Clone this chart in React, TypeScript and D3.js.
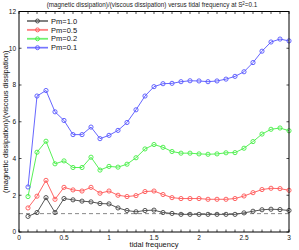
import React from "react";
import * as d3 from "d3";

const freqs = [
  0.1, 0.2, 0.3, 0.4, 0.5, 0.6, 0.7, 0.8, 0.9, 1.0,
  1.1, 1.2, 1.3, 1.4, 1.5, 1.6, 1.7, 1.8, 1.9, 2.0,
  2.1, 2.2, 2.3, 2.4, 2.5, 2.6, 2.7, 2.8, 2.9, 3.0,
];

const pm10 = [
  0.85, 1.06, 1.87, 1.06, 1.82, 1.75, 1.68, 1.64, 1.55, 1.53,
  1.31, 1.17, 1.1, 1.17, 1.19, 1.06, 1.01, 0.96, 0.96, 0.96,
  0.96, 0.96, 0.96, 0.96, 1.04, 1.13, 1.21, 1.24, 1.22, 1.17,
];
const pm05 = [
  1.31, 1.95, 2.81, 1.78, 2.43, 2.29, 2.23, 2.43, 2.11, 2.23,
  2.0, 1.93, 1.98, 2.2, 2.23, 2.04, 1.87, 1.82, 1.82, 1.82,
  1.78, 1.78, 1.78, 1.82, 1.96, 2.14, 2.31, 2.38, 2.36, 2.27,
];
const pm02 = [
  1.93, 4.34, 4.94, 3.71, 3.87, 3.51, 3.51, 4.07, 3.37, 3.57,
  3.53, 3.69, 4.04, 4.52, 4.76, 4.61, 4.38, 4.29, 4.29, 4.25,
  4.23, 4.25, 4.31, 4.32, 4.56, 4.92, 5.33, 5.59, 5.66, 5.51,
];
const pm01 = [
  2.45, 7.4, 7.7, 6.54, 6.07, 5.3, 5.3, 5.71, 5.08, 5.26,
  5.53, 5.96, 6.65, 7.4, 7.91, 8.07, 8.09, 8.18, 8.23, 8.22,
  8.18, 8.22, 8.32, 8.47, 8.72, 9.22, 9.84, 10.34, 10.5, 10.4,
];

const seriesNames = ["Pm=1.0", "Pm=0.5", "Pm=0.2", "Pm=0.1"];
const seriesValues = [pm10, pm05, pm02, pm01];
const seriesColors = ["#444444", "#ff5555", "#44ee44", "#5555ff"];

const xTicks = [0, 0.5, 1, 1.5, 2, 2.5, 3];
const yTicks = [0, 2, 4, 6, 8, 10, 12];

const left = 19;
const right = 289;
const top = 11.5;
const bottom = 232;
const font = "Liberation Sans, Arial, sans-serif";

export default function App() {
  const x = d3.scaleLinear().domain([0, 3]).range([left, right]);
  const y = d3.scaleLinear().domain([0, 12]).range([bottom, top]);
  const line = d3
    .line<number>()
    .x((_, i) => x(freqs[i]))
    .y((d) => y(d));
  const minorTicks = d3.range(0, 31).map((i) => i / 10);

  return (
    <svg
      width={299}
      height={250}
      style={{ position: "absolute", left: 0, top: 0, background: "#fff" }}
      fontFamily={font}
    >
      <text x={152} y={7} fontSize={6.3} textAnchor="middle" fill="#222">
        (magnetic dissipation)/(viscous dissipation) versus tidal frequency at S
        <tspan dy={-2.5} fontSize={4.5}>2</tspan>
        <tspan dy={2.5}>=0.1</tspan>
      </text>

      {/* reference line at 1 */}
      <line
        x1={x(0)}
        x2={x(3)}
        y1={y(1)}
        y2={y(1)}
        stroke="#888"
        strokeWidth={1}
        strokeDasharray="4,3"
      />

      {seriesValues.map((vals, s) => (
        <g key={seriesNames[s]}>
          <path d={line(vals) || ""} fill="none" stroke={seriesColors[s]} strokeWidth={0.9} />
          {vals.map((v, i) => (
            <circle
              key={i}
              cx={x(freqs[i])}
              cy={y(v)}
              r={2.1}
              fill="none"
              stroke={seriesColors[s]}
              strokeWidth={0.9}
            />
          ))}
        </g>
      ))}

      {/* axes box */}
      <rect x={left} y={top} width={right - left} height={bottom - top} fill="none" stroke="#000" strokeWidth={1} />
      {minorTicks.map((t) => (
        <g key={t}>
          <line x1={x(t)} x2={x(t)} y1={bottom} y2={bottom - 2.5} stroke="#000" strokeWidth={0.7} />
          <line x1={x(t)} x2={x(t)} y1={top} y2={top + 2.5} stroke="#000" strokeWidth={0.7} />
        </g>
      ))}
      {yTicks.map((t) => (
        <g key={t}>
          <line x1={left} x2={left + 2.5} y1={y(t)} y2={y(t)} stroke="#000" strokeWidth={0.7} />
          <line x1={right} x2={right - 2.5} y1={y(t)} y2={y(t)} stroke="#000" strokeWidth={0.7} />
          <text x={left - 3} y={y(t) + 2.3} fontSize={6.5} textAnchor="end" fill="#111">
            {t}
          </text>
        </g>
      ))}
      {xTicks.map((t) => (
        <text key={t} x={x(t)} y={bottom + 8} fontSize={6.5} textAnchor="middle" fill="#111">
          {t}
        </text>
      ))}

      <text x={x(1.5)} y={247} fontSize={7.5} textAnchor="middle" fill="#111">
        tidal frequency
      </text>
      <text
        transform={`translate(8,${(top + bottom) / 2}) rotate(-90)`}
        fontSize={7.5}
        textAnchor="middle"
        fill="#111"
      >
        (magnetic dissipation)/(viscous dissipation)
      </text>

      {/* legend */}
      {seriesNames.map((name, i) => {
        const ly = 21 + i * 8.9;
        return (
          <g key={name}>
            <line x1={27} x2={48} y1={ly} y2={ly} stroke={seriesColors[i]} strokeWidth={2} opacity={0.45} />
            <line x1={27} x2={48} y1={ly} y2={ly} stroke={seriesColors[i]} strokeWidth={0.8} />
            <circle cx={37.5} cy={ly} r={2} fill="none" stroke={seriesColors[i]} strokeWidth={0.9} />
            <text x={51} y={ly + 2.6} fontSize={7.5} fill="#111">
              {name}
            </text>
          </g>
        );
      })}
    </svg>
  );
}
